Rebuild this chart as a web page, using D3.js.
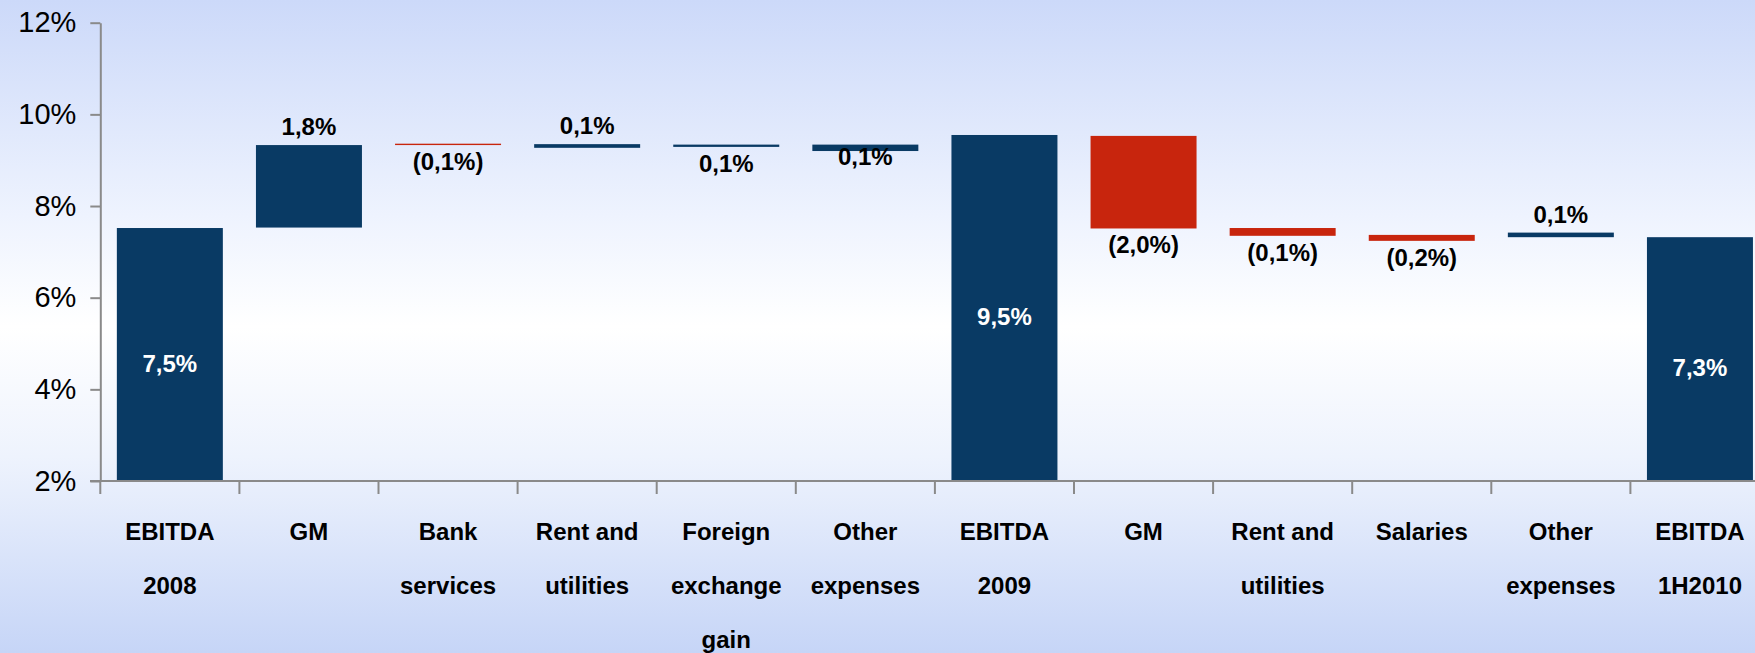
<!DOCTYPE html>
<html>
<head>
<meta charset="utf-8">
<script src="https://cdn.jsdelivr.net/npm/d3@7"></script>
<style>
  body { margin: 0; }
  svg { display: block; font-family: "Liberation Sans", Arial, sans-serif; }
  .axis path, .axis line { stroke: #8a8a8a; }
</style>
</head>
<body>
<svg width="1755" height="653"></svg>
<script>
// categories (lines of each x label)
const categories = [
  ["EBITDA", "2008"], ["GM"], ["Bank", "services"], ["Rent and", "utilities"],
  ["Foreign", "exchange", "gain"], ["Other", "expenses"], ["EBITDA", "2009"], ["GM"],
  ["Rent and", "utilities"], ["Salaries"], ["Other", "expenses"], ["EBITDA", "1H2010"]
];
// bottom and top of each floating bar (%)
const lows  = [2, 7.53, 9.33, 9.27, 9.29, 9.20, 2, 7.51, 7.35, 7.24, 7.32, 2];
const highs = [7.52, 9.33, 9.36, 9.35, 9.34, 9.34, 9.55, 9.53, 7.52, 7.37, 7.42, 7.32];
const kinds = ["total", "up", "down", "up", "up", "up", "total", "down", "down", "down", "up", "total"];
const valueLabels = ["7,5%", "1,8%", "(0,1%)", "0,1%", "0,1%", "0,1%", "9,5%", "(2,0%)", "(0,1%)", "(0,2%)", "0,1%", "7,3%"];
const labelPos = ["in", "above", "below", "above", "below", "over", "in", "below", "below", "below", "above", "in"];
const yTicks = [2, 4, 6, 8, 10, 12];

const svg = d3.select("svg"),
    width = +svg.attr("width"),
    height = +svg.attr("height");

// background
const grad = svg.append("defs").append("linearGradient")
    .attr("id", "bg").attr("x1", 0).attr("y1", 0).attr("x2", 0).attr("y2", 1);
[[0, "#ccd9f9"], [0.33, "#eef3fe"], [0.5, "#ffffff"], [0.7, "#eef3fd"], [1, "#c6d5f7"]]
    .forEach(s => grad.append("stop").attr("offset", s[0]).attr("stop-color", s[1]));
svg.append("rect").attr("width", width).attr("height", height).attr("fill", "url(#bg)");

const x = d3.scaleBand()
    .domain(d3.range(categories.length))
    .range([100.3, 1769.5])
    .paddingInner(0.238)
    .paddingOuter(0.119);

const y = d3.scaleLinear().domain([2, 12]).range([481, 22.7]);

const colors = { total: "#093a64", up: "#093a64", down: "#c8250d" };

// bars
svg.selectAll(".bar")
    .data(categories)
    .enter().append("rect")
    .attr("class", "bar")
    .attr("x", (d, i) => x(i))
    .attr("width", x.bandwidth())
    .attr("y", (d, i) => y(highs[i]))
    .attr("height", (d, i) => y(lows[i]) - y(highs[i]))
    .attr("fill", (d, i) => colors[kinds[i]]);

// y axis
const yAxis = svg.append("g")
    .attr("class", "axis")
    .attr("transform", "translate(100.3,0)")
    .call(d3.axisLeft(y).tickValues(yTicks).tickSize(10).tickSizeOuter(0)
        .tickFormat(d => d + "%"));
yAxis.select(".domain").attr("stroke-width", 2);
yAxis.selectAll("line").attr("stroke-width", 2);
yAxis.selectAll("text")
    .attr("x", -24)
    .attr("fill", "#000")
    .style("font-size", "29px");

// x axis line and ticks at band edges
const step = x.step();
const xg = svg.append("g").attr("class", "axis");
xg.append("line")
    .attr("x1", 90).attr("x2", width)
    .attr("y1", y(2)).attr("y2", y(2))
    .attr("stroke-width", 2);
xg.selectAll(".xtick")
    .data(d3.range(categories.length + 1))
    .enter().append("line")
    .attr("class", "xtick")
    .attr("x1", i => x(0) - x.paddingOuter() * step + i * step)
    .attr("x2", i => x(0) - x.paddingOuter() * step + i * step)
    .attr("y1", y(2)).attr("y2", y(2) + 13)
    .attr("stroke-width", 2);

// category labels
const cat = svg.selectAll(".cat")
    .data(categories)
    .enter().append("text")
    .attr("class", "cat")
    .attr("text-anchor", "middle")
    .style("font-size", "24px")
    .style("font-weight", "bold");
cat.selectAll("tspan")
    .data((d, i) => d.map(t => ({ t: t, i: i })))
    .enter().append("tspan")
    .attr("x", d => x(d.i) + x.bandwidth() / 2)
    .attr("y", (d, j) => 540 + j * 54)
    .text(d => d.t);

// value labels
svg.selectAll(".val")
    .data(valueLabels)
    .enter().append("text")
    .attr("class", "val")
    .attr("text-anchor", "middle")
    .style("font-size", "24px")
    .style("font-weight", "bold")
    .attr("fill", (d, i) => labelPos[i] === "in" ? "#fff" : "#000")
    .attr("x", (d, i) => x(i) + x.bandwidth() / 2)
    .attr("y", (d, i) => {
        const top = y(highs[i]), bot = y(lows[i]);
        if (labelPos[i] === "in") return (top + bot) / 2 + 17;
        if (labelPos[i] === "above") return top - 10;
        if (labelPos[i] === "over") return bot + 14;
        return bot + 25;
    })
    .text(d => d);
</script>
</body>
</html>
